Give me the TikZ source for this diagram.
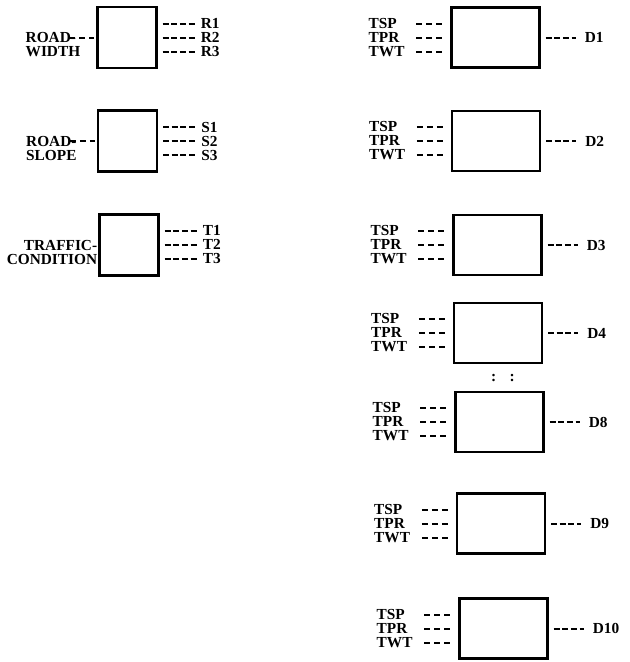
\documentclass[tikz,border=0pt]{standalone}
\usepackage{fontspec}
\setmainfont{Liberation Serif}
\usetikzlibrary{calc,positioning}

\begin{document}
\begin{tikzpicture}[x=0.75pt, y=-0.75pt,
  font=\bfseries\fontsize{11.5}{10.5}\selectfont,
  lbox/.style={draw, line width=1.6pt, minimum width=44.25pt, minimum height=45.75pt, inner sep=0pt},
  dbox/.style={draw, line width=1.6pt, minimum width=66pt, minimum height=45pt, inner sep=0pt},
  lab/.style={inner sep=0pt, align=left},
  dsh/.style={line width=1.5pt, dash pattern=on 4.5pt off 2pt},
  dsi/.style={line width=1.5pt, dash pattern=on 4.5pt off 3pt}]
\useasboundingbox (0,0) rectangle (630,662);

% left column
\node[lbox] (rw) at (127,37.5) {};
\node[lbox] (rs) at (127.5,141) {};
\node[lbox] (tc) at (129,245) {};
\node[lab, anchor=west] (rwi) at ($(rw.west)+(-71,7)$) {ROAD-\\WIDTH};
\node[lab, anchor=west] (rsi) at ($(rs.west)+(-71,7)$) {ROAD-\\SLOPE};
\node[lab, align=right, anchor=east] (tci) at ($(tc.west)+(-1,7)$) {TRAFFIC-\\CONDITION};
\draw[dsi] ($(rw.west)+(-27,0)$) -- ($(rw.west)+(-2,0)$);
\draw[dsi] ($(rs.west)+(-27,0)$) -- ($(rs.west)+(-2,0)$);
\node[lab, anchor=west] (rwo) at ($(rw.east)+(43,0)$) {R1\\R2\\R3};
\node[lab, anchor=west] (rso) at ($(rs.east)+(43,0)$) {S1\\S2\\S3};
\node[lab, anchor=west] (tco) at ($(tc.east)+(43,0)$) {T1\\T2\\T3};
\foreach \b in {rw,rs,tc}
  \foreach \dy in {-14,0,14}
    \draw[dsh] ($(\b.east)+(5,\dy)$) -- ($(\b o.west)+(-5,\dy)$);

% right column
\foreach \n/\x/\y in {1/495.5/37.5, 2/496/141, 3/497.5/245, 4/498/333, 8/499.5/422, 9/501/523.5, 10/503.5/628.5} {
  \node[dbox] (d\n) at (\x,\y) {};
  \node[lab, anchor=west] (d\n i) at ($(d\n.west)+(-82,0)$) {TSP\\TPR\\TWT};
  \node[lab, anchor=west] (d\n o) at ($(d\n.east)+(44,0)$) {D\n};
  \draw[dsh] ($(d\n.east)+(5,0)$) -- ($(d\n o.west)+(-9,0)$);
  \foreach \dy in {-14,0,14}
    \draw[dsi] ($(d\n.west)+(-34,\dy)$) -- ($(d\n.west)+(-5,\dy)$);
}
\node (dots) at (503,378) {:\hspace{10pt}:};
\end{tikzpicture}
\end{document}
